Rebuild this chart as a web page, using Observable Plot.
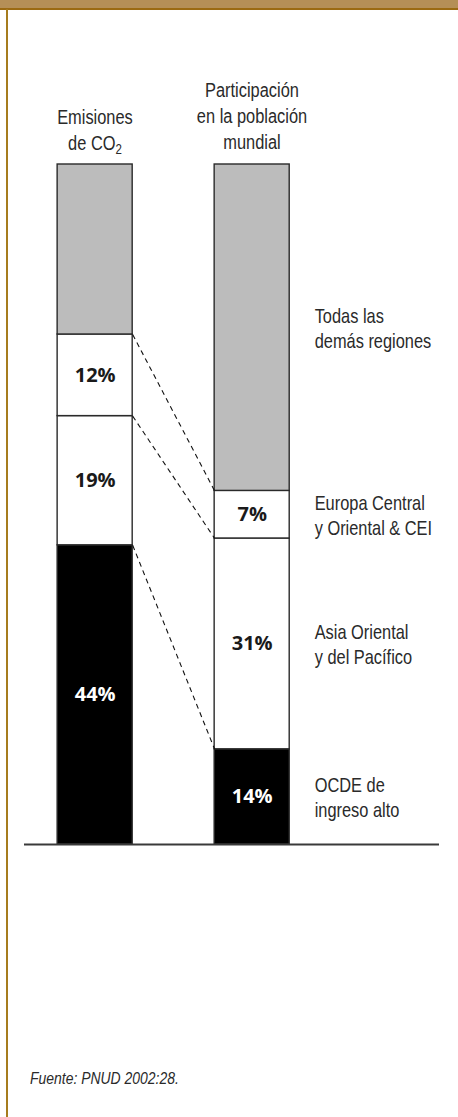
<!DOCTYPE html>
<html>
<head>
<meta charset="utf-8">
<script src="https://cdn.jsdelivr.net/npm/d3@7"></script>
<script src="https://cdn.jsdelivr.net/npm/@observablehq/plot@0.6"></script>
<style>
  html, body { margin: 0; padding: 0; background: #fff; }
  #page { position: relative; width: 458px; height: 1117px; overflow: hidden; background: #fff; }
  #band { position: absolute; left: 0; top: 0; width: 458px; height: 7.5px; background: #b58f57; border-bottom: 2px solid #9b6a12; }
  #rule { position: absolute; left: 6px; top: 9px; width: 1.6px; bottom: 0; background: #a67c1e; }
  .head { position: absolute; width: 200px; text-align: center; font-family: "Liberation Sans", Arial, sans-serif; font-size: 20px; line-height: 26px; color: #2a2a2a; transform: scaleX(0.82); transform-origin: 50% 0; }
  .head sub { font-size: 14px; line-height: 0; vertical-align: -4px; }
  #chart { position: absolute; left: 0; top: 154px; }
  #caption { position: absolute; left: 30px; top: 1069px; white-space: nowrap; font-family: "Liberation Sans", Arial, sans-serif; font-style: italic; font-size: 17px; line-height: 20px; color: #2a2a2a; transform: scaleX(0.82); transform-origin: 0 0; }
</style>
</head>
<body>
<div id="page">
  <div id="band"></div>
  <div id="rule"></div>
  <div class="head" id="h0" style="left:-5.5px; top:104px;">Emisiones<br>de CO<sub>2</sub></div>
  <div class="head" id="h1" style="left:151.5px; top:77px;">Participación<br>en la población<br>mundial</div>
  <div id="chart"></div>
  <div id="caption">Fuente: PNUD 2002:28.</div>
</div>
<script>
// ---- data ----
const columns = ["Emisiones de CO2", "Participación en la población mundial"];
const regions = [
  "OCDE de\ningreso alto",
  "Asia Oriental\ny del Pacífico",
  "Europa Central\ny Oriental & CEI",
  "Todas las\ndemás regiones"
];
const co2Shares = [44, 19, 12, 25];
const popShares = [14, 31, 7, 48];
const co2Labels = ["44%", "19%", "12%", ""];
const popLabels = ["14%", "31%", "7%", ""];

// ---- derived table ----
const shares = [co2Shares, popShares];
const labels = [co2Labels, popLabels];
const halfWidth = 0.239; // bar half-width in column units
const rows = [];
columns.forEach((col, c) => {
  const ends = Array.from(d3.cumsum(shares[c]));
  regions.forEach((region, i) => {
    const y1 = i === 0 ? 0 : ends[i - 1];
    const y2 = ends[i];
    rows.push({column: col, pos: c, region, value: shares[c][i], y1, y2, mid: (y1 + y2) / 2, label: labels[c][i], idx: i});
  });
});
const co2Ends = Array.from(d3.cumsum(co2Shares));
const popEnds = Array.from(d3.cumsum(popShares));
const links = [0, 1, 2].map(i => ({a: co2Ends[i], b: popEnds[i]}));

const chart = Plot.plot({
  width: 458,
  height: 700,
  marginTop: 10,
  marginBottom: 10,
  marginLeft: 24,
  marginRight: 19,
  x: {domain: [-0.45, 2.193], axis: null},
  y: {domain: [0, 100], axis: null},
  color: {domain: regions, range: ["#000000", "#ffffff", "#ffffff", "#bcbcbc"]},
  style: {background: "transparent", overflow: "visible"},
  marks: [
    Plot.rectY(rows, {
      x1: d => d.pos - halfWidth,
      x2: d => d.pos + halfWidth,
      y1: "y1",
      y2: "y2",
      fill: "region",
      stroke: "#2a2a2a",
      strokeWidth: 1.4
    }),
    Plot.link(links, {
      x1: () => 0 + halfWidth,
      x2: () => 1 - halfWidth,
      y1: "a",
      y2: "b",
      stroke: "#111",
      strokeWidth: 1.1,
      strokeDasharray: "5,4"
    }),
    Plot.text(rows.filter(d => d.label && d.idx === 0), {
      x: "pos", y: "mid", text: "label",
      fill: "#ffffff", fontSize: 20, fontWeight: "bold",
      fontFamily: "'Open Sans', sans-serif"
    }),
    Plot.text(rows.filter(d => d.label && d.idx !== 0), {
      x: "pos", y: "mid", text: "label",
      fill: "#1a1a1a", fontSize: 20, fontWeight: "bold",
      fontFamily: "'Open Sans', sans-serif"
    }),
    Plot.text(rows.filter(d => d.pos === 1), {
      x: "pos", y: "mid", text: "region",
      textAnchor: "start", dx: 62.5,
      lineHeight: 1.25,
      fill: "#2a2a2a", fontSize: 20,
      fontFamily: "'Liberation Sans', Arial, sans-serif"
    }),
    Plot.ruleY([0], {stroke: "#3a3a3a", strokeWidth: 2})
  ]
});
document.getElementById("chart").appendChild(chart);

// condense the region labels horizontally (narrow face look)
const flat = new Set(regions.map(r => r.replace(/\n/g, "")));
d3.select(chart).selectAll("text").each(function () {
  if (!flat.has(this.textContent)) return;
  const el = d3.select(this);
  const t = el.attr("transform");
  if (t) {
    el.attr("transform", t + " scale(0.82,1)");
  } else {
    const x = +el.attr("x") || 0;
    el.attr("transform", `translate(${x},0) scale(0.82,1) translate(${-x},0)`);
  }
});
</script>
</body>
</html>
